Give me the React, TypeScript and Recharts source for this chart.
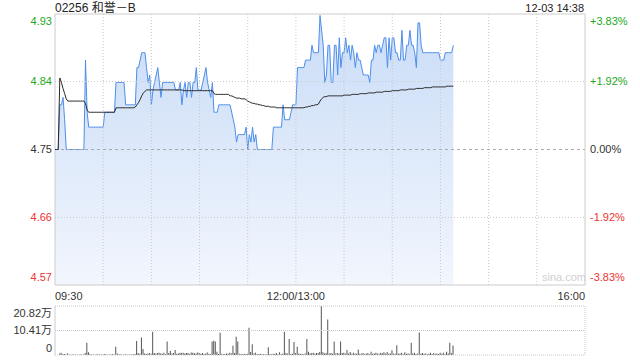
import React from 'react';
import { ComposedChart, Area, Line, XAxis, YAxis, ReferenceLine, Bar } from 'recharts';

const FONT = '"Liberation Sans", Arial, "Noto Sans CJK SC", sans-serif';
const GREEN = '#22a822';
const RED = '#ee3333';

const title = '02256 和誉－B';
const stamp = '12-03 14:38';

const prevClose = 4.75;
const pctTicks = [0.0383, 0.0192, 0, -0.0192, -0.0383];
const leftLabels = ['4.93', '4.84', '4.75', '4.66', '4.57'];
const rightLabels = ['+3.83%', '+1.92%', '0.00%', '-1.92%', '-3.83%'];

const timeTicks = [0, 150, 330];
const timeLabels = ['09:30', '12:00/13:00', '16:00'];
const gridMinutes = [30, 60, 90, 120, 150, 180, 210, 240, 270, 300];

// minute-by-minute last price (09:30 -> 14:38)
const prices = [
  4.75, 4.75, 4.75, 4.81, 4.81, 4.82, 4.79, 4.75, 4.75, 4.75,
  4.75, 4.75, 4.75, 4.75, 4.75, 4.75, 4.75, 4.75, 4.75, 4.87,
  4.80, 4.78, 4.78, 4.78, 4.78, 4.78, 4.78, 4.78, 4.78, 4.78,
  4.78, 4.80, 4.80, 4.80, 4.80, 4.80, 4.80, 4.80, 4.84, 4.84,
  4.84, 4.84, 4.84, 4.84, 4.81, 4.81, 4.81, 4.81, 4.81, 4.81,
  4.81, 4.86, 4.86, 4.87, 4.88, 4.88, 4.88, 4.86, 4.84, 4.85,
  4.81, 4.83, 4.84, 4.85, 4.86, 4.84, 4.82, 4.84, 4.84, 4.84,
  4.84, 4.84, 4.84, 4.84, 4.84, 4.83, 4.83, 4.83, 4.84, 4.81,
  4.83, 4.84, 4.82, 4.84, 4.84, 4.82, 4.84, 4.84, 4.86, 4.83,
  4.83, 4.83, 4.84, 4.85, 4.86, 4.84, 4.83, 4.82, 4.84, 4.80,
  4.80, 4.80, 4.81, 4.81, 4.81, 4.81, 4.81, 4.81, 4.81, 4.81,
  4.80, 4.79, 4.78, 4.76, 4.77, 4.77, 4.77, 4.77, 4.77, 4.78,
  4.75, 4.77, 4.76, 4.78, 4.76, 4.77, 4.75, 4.75, 4.75, 4.75,
  4.75, 4.75, 4.75, 4.75, 4.75, 4.75, 4.78, 4.78, 4.78, 4.78,
  4.78, 4.78, 4.81, 4.79, 4.79, 4.79, 4.79, 4.80, 4.81, 4.81,
  4.81, 4.86, 4.86, 4.86, 4.86, 4.86, 4.87, 4.87, 4.87, 4.87,
  4.89, 4.88, 4.88, 4.88, 4.88, 4.93, 4.91, 4.89, 4.84, 4.85,
  4.89, 4.89, 4.84, 4.84, 4.89, 4.89, 4.85, 4.90, 4.86, 4.88,
  4.88, 4.90, 4.88, 4.89, 4.87, 4.89, 4.88, 4.86, 4.88, 4.87,
  4.87, 4.86, 4.85, 4.85, 4.85, 4.85, 4.84, 4.87, 4.87, 4.89,
  4.88, 4.89, 4.89, 4.88, 4.89, 4.90, 4.90, 4.86, 4.90, 4.87,
  4.90, 4.90, 4.88, 4.88, 4.87, 4.87, 4.91, 4.87, 4.87, 4.89,
  4.89, 4.91, 4.89, 4.89, 4.88, 4.86, 4.92, 4.92, 4.89, 4.88,
  4.88, 4.88, 4.88, 4.88, 4.88, 4.88, 4.88, 4.88, 4.88, 4.88,
  4.87, 4.87, 4.87, 4.88, 4.88, 4.88, 4.88, 4.88, 4.89,
];

// minute-by-minute average price
const avgs = [
  4.75, 4.75, 4.75, 4.846, 4.840, 4.832, 4.825, 4.818, 4.815, 4.815,
  4.815, 4.815, 4.815, 4.815, 4.815, 4.815, 4.815, 4.815, 4.815, 4.812,
  4.803, 4.800, 4.800, 4.800, 4.800, 4.800, 4.800, 4.800, 4.800, 4.800,
  4.800, 4.800, 4.800, 4.800, 4.800, 4.800, 4.800, 4.800, 4.806, 4.806,
  4.806, 4.806, 4.806, 4.806, 4.806, 4.806, 4.806, 4.806, 4.806, 4.806,
  4.807, 4.810, 4.813, 4.817, 4.822, 4.826, 4.828, 4.830, 4.830, 4.830,
  4.830, 4.830, 4.830, 4.830, 4.830, 4.830, 4.830, 4.830, 4.830, 4.830,
  4.830, 4.830, 4.830, 4.830, 4.830, 4.830, 4.830, 4.830, 4.830, 4.830,
  4.829, 4.829, 4.829, 4.829, 4.829, 4.829, 4.829, 4.829, 4.829, 4.829,
  4.829, 4.829, 4.829, 4.829, 4.829, 4.829, 4.829, 4.829, 4.829, 4.825,
  4.824, 4.824, 4.824, 4.824, 4.824, 4.824, 4.824, 4.824, 4.824, 4.822,
  4.822, 4.821, 4.820, 4.819, 4.819, 4.819, 4.818, 4.818, 4.818, 4.817,
  4.815, 4.814, 4.813, 4.812, 4.812, 4.811, 4.811, 4.810, 4.810, 4.809,
  4.809, 4.808, 4.808, 4.808, 4.807, 4.807, 4.807, 4.807, 4.806, 4.806,
  4.806, 4.806, 4.806, 4.806, 4.806, 4.806, 4.806, 4.806, 4.806, 4.806,
  4.806, 4.806, 4.806, 4.806, 4.806, 4.806, 4.807, 4.807, 4.808, 4.808,
  4.809, 4.809, 4.810, 4.810, 4.811, 4.815, 4.818, 4.820, 4.821, 4.821,
  4.822, 4.822, 4.822, 4.822, 4.822, 4.822, 4.822, 4.822, 4.822, 4.822,
  4.823, 4.823, 4.823, 4.823, 4.823, 4.824, 4.824, 4.824, 4.824, 4.824,
  4.825, 4.825, 4.825, 4.825, 4.825, 4.826, 4.826, 4.826, 4.826, 4.826,
  4.827, 4.827, 4.827, 4.827, 4.827, 4.828, 4.828, 4.828, 4.828, 4.828,
  4.829, 4.829, 4.829, 4.829, 4.829, 4.830, 4.830, 4.830, 4.830, 4.830,
  4.831, 4.831, 4.831, 4.831, 4.831, 4.832, 4.832, 4.832, 4.832, 4.832,
  4.833, 4.833, 4.833, 4.833, 4.833, 4.834, 4.834, 4.834, 4.834, 4.834,
  4.834, 4.834, 4.834, 4.834, 4.835, 4.835, 4.835, 4.835, 4.835,
];

// minute volume in 万 shares
const volumesWan = [
  0, 0, 0, 0.6, 1.0, 0.3, 0.4, 0.2, 0.7, 0.2,
  0.1, 0.2, 0.1, 0.2, 0.1, 0.1, 0.2, 0.1, 0.2, 0.8,
  5.2, 1.2, 0.3, 0.2, 0.2, 0.1, 0.2, 0.2, 0.3, 0.1,
  0.2, 0.3, 0.2, 0.1, 0.2, 0.2, 0.3, 0.2, 3.5, 0.6,
  0.3, 0.2, 0.1, 0.2, 0.3, 0.2, 0.1, 0.2, 0.2, 0.3,
  0.4, 5.9, 0.8, 0.5, 7.4, 2.5, 0.6, 0.4, 0.6, 0.8,
  0.5, 9.9, 0.9, 0.6, 0.8, 1.0, 0.6, 0.5, 1.0, 0.4,
  5.7, 0.8, 1.7, 0.6, 0.9, 2.1, 0.5, 0.6, 1.0, 0.8,
  1.0, 0.6, 0.9, 0.9, 0.5, 1.1, 1.0, 0.7, 0.6, 1.1,
  0.8, 0.5, 0.8, 0.4, 0.6, 1.1, 0.5, 0.3, 5.7, 6.1,
  5.7, 1.4, 0.4, 9.5, 0.5, 0.3, 0.4, 0.6, 0.5, 1.0,
  0.6, 3.9, 0.8, 7.8, 5.7, 0.5, 0.4, 0.3, 0.5, 0.4,
  0.5, 11.6, 1.3, 4.6, 0.6, 1.0, 0.4, 0.3, 0.5, 0.2,
  0.4, 0.3, 0.2, 3.3, 0.4, 0.3, 0.5, 0.4, 0.8, 0.3,
  1.2, 0.4, 0.5, 9.9, 0.8, 0.6, 6.8, 0.4, 0.5, 5.5,
  0.8, 3.5, 0.6, 0.4, 0.5, 0.3, 0.6, 6.8, 1.4, 0.6,
  0.8, 1.0, 0.5, 0.8, 0.8, 1.3, 20.82, 1.2, 0.6, 0.9,
  15.1, 0.6, 0.8, 0.5, 5.7, 0.6, 0.8, 0.6, 5.7, 0.8,
  1.0, 0.6, 2.1, 0.6, 1.3, 0.5, 1.0, 0.6, 0.5, 2.3,
  0.6, 0.5, 0.9, 0.3, 0.6, 0.8, 0.4, 1.4, 0.5, 0.6,
  1.0, 0.6, 0.5, 1.0, 0.7, 1.2, 0.6, 1.3, 0.5, 0.6,
  2.0, 0.6, 0.5, 4.1, 0.5, 0.6, 1.0, 0.4, 1.2, 0.5,
  0.6, 0.5, 5.2, 0.6, 1.0, 0.4, 0.6, 9.6, 0.5, 0.9,
  0.5, 0.6, 0.4, 0.5, 1.0, 0.4, 0.9, 0.5, 0.6, 0.4,
  1.0, 0.5, 1.0, 0.4, 1.4, 0.6, 5.2, 0.8, 4.0,
];

const volTickWan = [0, 10.41, 20.82];
const volLabels = ['0', '10.41万', '20.82万'];

const priceTickValues = pctTicks.map((p) => prevClose * (1 + p));
const priceDomain: [number, number] = [prevClose * (1 - 0.0383), prevClose * (1 + 0.0383)];
const priceData = prices.map((p, i) => ({ t: i, price: p, avg: avgs[i] }));
const volData = volumesWan.map((v, i) => ({ t: i, vol: v * 10000 }));
const volTicks = volTickWan.map((v) => v * 10000);
const volDomain: [number, number] = [0, volTicks[volTicks.length - 1]];

const tickIndex = (v: number) => priceTickValues.findIndex((x) => Math.abs(x - v) < 1e-6);
const tickColor = (i: number) => (i < 2 ? GREEN : i === 2 ? '#333' : RED);
const tickDy = (i: number) => (i === 0 ? 7 : i === priceTickValues.length - 1 ? -8 : 0);

const LeftTick = (props: any) => {
  const i = tickIndex(props.payload.value);
  if (i < 0) return null;
  return (
    <text x={52} y={props.y + tickDy(i)} dy="0.35em" textAnchor="end" fontSize={11} fill={tickColor(i)} fontFamily={FONT}>
      {leftLabels[i]}
    </text>
  );
};

const RightTick = (props: any) => {
  const i = tickIndex(props.payload.value);
  if (i < 0) return null;
  return (
    <text x={590} y={props.y + tickDy(i)} dy="0.35em" textAnchor="start" fontSize={11} fill={tickColor(i)} fontFamily={FONT}>
      {rightLabels[i]}
    </text>
  );
};

const TimeTick = (props: any) => {
  const i = timeTicks.indexOf(props.payload.value);
  if (i < 0) return null;
  const anchor = i === 0 ? 'start' : i === timeTicks.length - 1 ? 'end' : 'middle';
  return (
    <text x={props.x} y={296} dy="0.35em" textAnchor={anchor} fontSize={11} fill="#333" fontFamily={FONT}>
      {timeLabels[i]}
    </text>
  );
};

const VolTick = (props: any) => {
  const i = volTicks.indexOf(props.payload.value);
  if (i < 0) return null;
  const dy = i === volTicks.length - 1 ? 7 : i === 0 ? -7 : 0;
  return (
    <text x={52} y={props.y + dy} dy="0.35em" textAnchor="end" fontSize={11} fill="#333" fontFamily={FONT}>
      {volLabels[i]}
    </text>
  );
};

export default function App() {
  return (
    <div style={{ position: 'absolute', left: 0, top: 0, width: 640, height: 360, background: '#fff', fontFamily: FONT, overflow: 'hidden' }}>
      <div style={{ position: 'absolute', left: 55, top: 0, fontSize: 12, lineHeight: '16px', color: '#222' }}>{title}</div>
      <div style={{ position: 'absolute', right: 56, top: 1, fontSize: 11, lineHeight: '14px', color: '#222' }}>{stamp}</div>
      <div style={{ position: 'absolute', left: 0, top: 0 }}>
        <ComposedChart width={640} height={305} data={priceData} margin={{ top: 14, right: 0, bottom: 0, left: 0 }}>
          <defs>
            <linearGradient id="priceFill" x1="0" y1="0" x2="0" y2="1">
              <stop offset="0%" stopColor="#c9dcf7" />
              <stop offset="100%" stopColor="#f2f6fd" />
            </linearGradient>
          </defs>
          <XAxis dataKey="t" type="number" domain={[0, 330]} ticks={timeTicks} interval={0} tick={<TimeTick />} axisLine={false} tickLine={false} height={20} />
          <YAxis yAxisId="left" type="number" domain={priceDomain} ticks={priceTickValues} interval={0} tick={<LeftTick />} axisLine={false} tickLine={false} width={55} allowDataOverflow />
          <YAxis yAxisId="right" orientation="right" type="number" domain={priceDomain} ticks={priceTickValues} interval={0} tick={<RightTick />} axisLine={false} tickLine={false} width={55} allowDataOverflow />
          <Area yAxisId="left" type="linear" dataKey="price" stroke="#4d8fec" strokeWidth={1} fill="url(#priceFill)" fillOpacity={1} dot={false} activeDot={false} isAnimationActive={false} />
          {gridMinutes.map((m) => (
            <ReferenceLine key={'v' + m} yAxisId="left" x={m} stroke="#c8c8c8" strokeDasharray="1 2" />
          ))}
          <ReferenceLine yAxisId="left" y={priceTickValues[1]} stroke="#c8c8c8" strokeDasharray="1 2" />
          <ReferenceLine yAxisId="left" y={priceTickValues[3]} stroke="#c8c8c8" strokeDasharray="1 2" />
          <ReferenceLine yAxisId="left" y={priceTickValues[2]} stroke="#aaaaaa" strokeDasharray="3 3" />
          <ReferenceLine yAxisId="left" y={priceDomain[1]} stroke="#cccccc" />
          <ReferenceLine yAxisId="left" y={priceDomain[0]} stroke="#cccccc" />
          <ReferenceLine yAxisId="left" x={0} stroke="#cccccc" />
          <ReferenceLine yAxisId="left" x={330} stroke="#cccccc" />
          <Line yAxisId="left" type="linear" dataKey="avg" stroke="#2a2a2a" strokeWidth={1} dot={false} activeDot={false} isAnimationActive={false} />
        </ComposedChart>
      </div>
      <div style={{ position: 'absolute', left: 542, top: 271, fontSize: 11, color: '#d0d0d0' }}>sina.com</div>
      <div style={{ position: 'absolute', left: 0, top: 300 }}>
        <ComposedChart width={640} height={60} data={volData} margin={{ top: 6, right: 55, bottom: 5, left: 0 }}>
          <XAxis dataKey="t" type="number" domain={[0, 330]} hide />
          <YAxis type="number" domain={volDomain} ticks={volTicks} interval={0} tick={<VolTick />} axisLine={false} tickLine={false} width={55} />
          <ReferenceLine y={volTicks[1]} stroke="#c8c8c8" strokeDasharray="1 1" />
          <ReferenceLine y={volDomain[1]} stroke="#c8c8c8" strokeDasharray="1 1" />
          <ReferenceLine y={0} stroke="#c8c8c8" strokeDasharray="1 1" />
          <ReferenceLine x={0} stroke="#cccccc" />
          <ReferenceLine x={330} stroke="#c8c8c8" strokeDasharray="1 1" />
          <Bar dataKey="vol" fill="#555555" barSize={1} isAnimationActive={false} />
        </ComposedChart>
      </div>
    </div>
  );
}
